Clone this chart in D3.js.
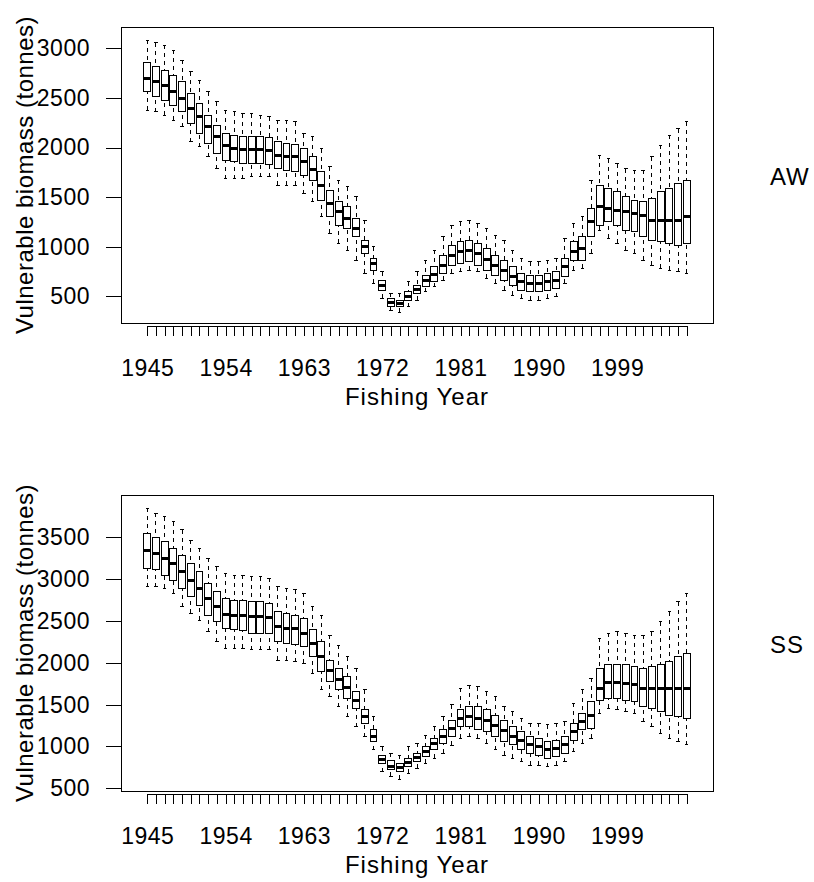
<!DOCTYPE html>
<html>
<head>
<meta charset="utf-8">
<script src="https://cdn.jsdelivr.net/npm/d3@7"></script>
<style>
  body { margin: 0; background: #fff; }
  svg { display: block; }
  text { font-family: "Liberation Sans", Arial, sans-serif; fill: #000; }
  .tick text { font-size: 23px; letter-spacing: 0.5px; }
  .titulo { font-size: 24px; letter-spacing: 1px; }
  .titulo-y { font-size: 24px; letter-spacing: 0.5px; }
</style>
</head>
<body>
<div id="graf"></div>
<script>
// I. Datos
anos = [1945, 1946, 1947, 1948, 1949, 1950, 1951, 1952, 1953, 1954,
        1955, 1956, 1957, 1958, 1959, 1960, 1961, 1962, 1963, 1964,
        1965, 1966, 1967, 1968, 1969, 1970, 1971, 1972, 1973, 1974,
        1975, 1976, 1977, 1978, 1979, 1980, 1981, 1982, 1983, 1984,
        1985, 1986, 1987, 1988, 1989, 1990, 1991, 1992, 1993, 1994,
        1995, 1996, 1997, 1998, 1999, 2000, 2001, 2002, 2003, 2004,
        2005, 2006, 2007]

etiquetasX = [1945, 1954, 1963, 1972, 1981, 1990, 1999]
ticksAW = [500, 1000, 1500, 2000, 2500, 3000]
ticksSS = [500, 1000, 1500, 2000, 2500, 3000, 3500]

// AW: mediana, cuartiles y bigotes
awMed = [2695, 2661, 2627, 2560, 2493, 2392, 2309, 2208, 2107, 2023,
         1990, 1980, 1980, 1980, 1966, 1922, 1906, 1906, 1860, 1780,
         1620, 1436, 1352, 1285, 1184, 999, 831, 613, 435, 429,
         502, 570, 657, 724, 815, 915, 949, 966, 932, 872,
         815, 764, 697, 647, 630, 630, 647, 664, 798, 949,
         982, 1251, 1402, 1385, 1369, 1352, 1335, 1318, 1268, 1268,
         1268, 1268, 1301]
awQ3 = [2862, 2812, 2778, 2728, 2661, 2543, 2443, 2325, 2225, 2141,
        2124, 2107, 2107, 2107, 2100, 2057, 2040, 2033, 1990, 1906,
        1755, 1570, 1453, 1402, 1285, 1066, 882, 664, 479, 462,
        546, 613, 714, 798, 915, 1016, 1050, 1066, 1033, 982,
        915, 865, 798, 731, 714, 714, 731, 748, 882, 1050,
        1100, 1385, 1620, 1587, 1553, 1503, 1469, 1452, 1486, 1553,
        1587, 1637, 1671]
awQ1 = [2560, 2510, 2476, 2426, 2359, 2241, 2141, 2040, 1939, 1872,
        1855, 1838, 1838, 1838, 1832, 1788, 1771, 1755, 1721, 1671,
        1469, 1301, 1218, 1184, 1100, 932, 764, 563, 395, 395,
        462, 529, 597, 647, 731, 815, 832, 848, 815, 764,
        714, 664, 613, 563, 546, 546, 563, 580, 697, 865,
        865, 1100, 1218, 1251, 1218, 1167, 1150, 1100, 1066, 1050,
        1033, 1016, 1033]
awHi = [3081, 3054, 3030, 2980, 2879, 2762, 2678, 2560, 2460, 2376,
        2359, 2342, 2342, 2325, 2308, 2275, 2275, 2258, 2141, 2107,
        1990, 1805, 1671, 1604, 1503, 1268, 999, 748, 529, 529,
        647, 748, 865, 966, 1100, 1218, 1251, 1268, 1234, 1184,
        1117, 1066, 966, 882, 848, 848, 865, 882, 1083, 1234,
        1301, 1671, 1922, 1889, 1838, 1788, 1771, 1771, 1906, 2023,
        2124, 2191, 2258]
awLo = [2376, 2359, 2325, 2275, 2208, 2057, 2006, 1906, 1788, 1687,
        1687, 1687, 1704, 1704, 1704, 1620, 1620, 1620, 1536, 1452,
        1301, 1134, 1033, 966, 865, 731, 630, 479, 361, 340,
        395, 462, 546, 597, 664, 731, 748, 764, 748, 680,
        630, 563, 513, 479, 462, 462, 479, 496, 630, 764,
        781, 932, 1167, 1083, 1033, 966, 932, 865, 815, 781,
        764, 748, 731]

// SS: mediana, cuartiles y bigotes
ssMed = [3347, 3308, 3248, 3188, 3089, 2989, 2890, 2770, 2671, 2583,
         2571, 2571, 2559, 2551, 2543, 2432, 2412, 2412, 2350, 2232,
         2073, 1906, 1802, 1707, 1555, 1356, 1125, 846, 765, 745,
         806, 870, 938, 1030, 1117, 1217, 1336, 1356, 1336, 1308,
         1245, 1189, 1125, 1069, 1018, 998, 958, 978, 1018, 1177,
         1296, 1376, 1695, 1762, 1762, 1754, 1746, 1695, 1695, 1695,
         1695, 1695, 1695]
ssQ3 = [3547, 3499, 3447, 3367, 3288, 3188, 3089, 2949, 2850, 2770,
        2750, 2750, 2730, 2730, 2710, 2611, 2591, 2571, 2531, 2392,
        2252, 2033, 1934, 1834, 1655, 1436, 1197, 898, 838, 798,
        858, 918, 998, 1097, 1197, 1316, 1436, 1476, 1476, 1436,
        1376, 1316, 1237, 1177, 1117, 1097, 1057, 1077, 1117, 1277,
        1396, 1535, 1934, 1974, 1985, 1974, 1954, 1934, 1954, 1974,
        2013, 2073, 2113]
ssQ1 = [3129, 3109, 3049, 2989, 2890, 2790, 2690, 2571, 2491, 2412,
        2392, 2380, 2352, 2352, 2352, 2252, 2232, 2224, 2193, 2073,
        1894, 1774, 1675, 1575, 1456, 1277, 1057, 798, 725, 705,
        759, 818, 878, 958, 1037, 1117, 1237, 1237, 1197, 1177,
        1117, 1057, 1018, 958, 918, 898, 858, 878, 918, 1077,
        1197, 1217, 1555, 1575, 1575, 1555, 1535, 1476, 1456, 1416,
        1376, 1356, 1336]
ssHi = [3845, 3786, 3746, 3686, 3587, 3467, 3367, 3248, 3148, 3069,
        3049, 3049, 3029, 3029, 3009, 2910, 2890, 2870, 2830, 2670,
        2571, 2332, 2212, 2073, 1934, 1675, 1356, 998, 918, 898,
        998, 1037, 1137, 1237, 1356, 1496, 1695, 1734, 1714, 1655,
        1595, 1476, 1416, 1336, 1277, 1277, 1257, 1277, 1296, 1516,
        1675, 1814, 2292, 2352, 2372, 2352, 2332, 2332, 2372, 2491,
        2611, 2730, 2830]
ssLo = [2910, 2910, 2890, 2830, 2670, 2591, 2511, 2372, 2252, 2173,
        2173, 2173, 2153, 2153, 2153, 2033, 2033, 2013, 1993, 1874,
        1675, 1595, 1476, 1356, 1237, 1117, 958, 699, 645, 610,
        679, 739, 798, 858, 918, 1017, 1097, 1117, 1097, 1037,
        958, 898, 858, 818, 778, 778, 759, 778, 818, 938,
        1037, 1097, 1396, 1456, 1436, 1416, 1396, 1296, 1237, 1157,
        1097, 1057, 1018]

// II. Configuración
ancho_total = 814
alto_total = 882
alto = 296

svg = d3.select('#graf').append('svg')
        .attr('width', ancho_total)
        .attr('height', alto_total)

// escala x: una caja por año, con el 4% extra a cada lado
x = d3.scaleLinear()
      .domain([1945 - 3.02, 2007 + 3.02])
      .range([121, 713])

medio = x(1945.4) - x(1945)

paneles = [
  { nombre: 'AW', top: 27, dominio: [231, 3215], ticks: ticksAW,
    med: awMed, q1: awQ1, q3: awQ3, lo: awLo, hi: awHi },
  { nombre: 'SS', top: 495, dominio: [468, 4005], ticks: ticksSS,
    med: ssMed, q1: ssQ1, q3: ssQ3, lo: ssLo, hi: ssHi }
]

// III. Dibujo
paneles.forEach(p => {
  y = d3.scaleLinear()
        .domain(p.dominio)
        .range([p.top + alto, p.top])

  datos = anos.map((a, i) => ({
    ano: a, med: p.med[i], q1: p.q1[i], q3: p.q3[i], lo: p.lo[i], hi: p.hi[i]
  }))

  g = svg.append('g')
  cajas = g.selectAll('g.caja')
            .data(datos)
            .enter()
            .append('g')
            .attr('class', 'caja')

  // bigotes punteados (del extremo hacia la caja)
  cajas.append('line')
       .attr('x1', d => x(d.ano)).attr('x2', d => x(d.ano))
       .attr('y1', d => y(d.hi)).attr('y2', d => y(d.q3))
       .attr('stroke', '#000').attr('stroke-dasharray', '4,4')
  cajas.append('line')
       .attr('x1', d => x(d.ano)).attr('x2', d => x(d.ano))
       .attr('y1', d => y(d.lo)).attr('y2', d => y(d.q1))
       .attr('stroke', '#000').attr('stroke-dasharray', '4,4')

  // topes
  cajas.append('line')
       .attr('x1', d => x(d.ano) - medio / 2).attr('x2', d => x(d.ano) + medio / 2)
       .attr('y1', d => y(d.hi)).attr('y2', d => y(d.hi))
       .attr('stroke', '#000')
  cajas.append('line')
       .attr('x1', d => x(d.ano) - medio / 2).attr('x2', d => x(d.ano) + medio / 2)
       .attr('y1', d => y(d.lo)).attr('y2', d => y(d.lo))
       .attr('stroke', '#000')

  cajas.append('rect')
       .attr('x', d => x(d.ano) - medio)
       .attr('width', 2 * medio)
       .attr('y', d => y(d.q3))
       .attr('height', d => y(d.q1) - y(d.q3))
       .attr('fill', 'none')
       .attr('stroke', '#000')

  // mediana gruesa
  cajas.append('line')
       .attr('x1', d => x(d.ano) - medio).attr('x2', d => x(d.ano) + medio)
       .attr('y1', d => y(d.med)).attr('y2', d => y(d.med))
       .attr('stroke', '#000').attr('stroke-width', 3)

  cajas.selectAll('line, rect').attr('shape-rendering', 'crispEdges')

  // marco
  g.append('rect')
   .attr('x', x.range()[0]).attr('y', p.top)
   .attr('width', x.range()[1] - x.range()[0]).attr('height', alto)
   .attr('fill', 'none').attr('stroke', '#000')
   .attr('shape-rendering', 'crispEdges')

  // ejes
  xAxisGroup = g.append('g')
                .attr('transform', `translate(0, ${ p.top + alto + 3 })`)
  xAxisCall = d3.axisBottom(x)
                .tickValues(anos)
                .tickSize(10)
                .tickPadding(24)
                .tickFormat(d => etiquetasX.includes(d) ? String(d) : '')
  xAxisGroup.call(xAxisCall)
  xAxisGroup.select('.domain').remove()
  xAxisGroup.append('line')
            .attr('x1', x(anos[0])).attr('x2', x(anos[anos.length - 1]))
            .attr('stroke', '#000')
  xAxisGroup.selectAll('line').attr('shape-rendering', 'crispEdges')

  yAxisGroup = g.append('g')
                .attr('transform', `translate(${ x.range()[0] }, 0)`)
  yAxisCall = d3.axisLeft(y)
                .tickValues(p.ticks)
                .tickSize(15)
                .tickPadding(16)
                .tickFormat(d => String(d))
  yAxisGroup.call(yAxisCall)
  yAxisGroup.select('.domain').remove()
  yAxisGroup.selectAll('line').attr('shape-rendering', 'crispEdges')

  // títulos
  g.append('text')
   .attr('class', 'titulo')
   .attr('x', (x.range()[0] + x.range()[1]) / 2)
   .attr('y', p.top + alto + 82)
   .attr('text-anchor', 'middle')
   .text('Fishing Year')

  g.append('text')
   .attr('class', 'titulo-y')
   .attr('transform', `translate(33, ${ p.top + alto / 2 }) rotate(-90)`)
   .attr('text-anchor', 'middle')
   .text('Vulnerable biomass (tonnes)')

  g.append('text')
   .attr('class', 'titulo')
   .attr('x', 770)
   .attr('y', p.top + 158)
   .text(p.nombre)
})
</script>
</body>
</html>
